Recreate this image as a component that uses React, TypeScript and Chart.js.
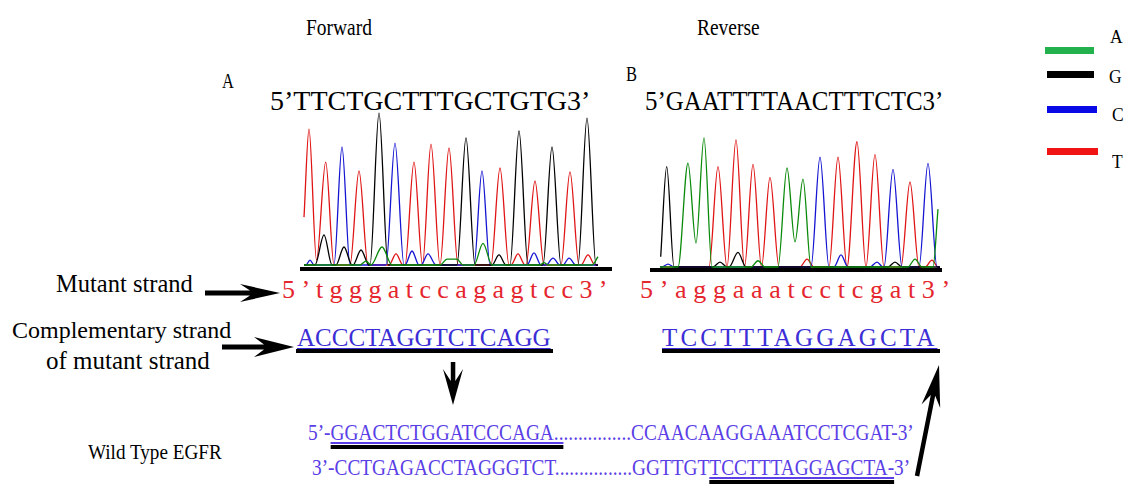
import React, { useEffect, useRef } from "react";
import { Chart, registerables } from "chart.js";
Chart.register(...registerables);

// ---------------- Data ----------------
// Base-call channel colours (trace) and legend colours
const BASES = ["A", "G", "C", "T"];
const TRACE_COLORS = ["#0a8a0a", "#000000", "#1414d2", "#e01414"];
const LEGEND_COLORS = ["#22b14c", "#000000", "#0a0ae6", "#f01414"];

// Forward chromatogram: [scan, intensity] per channel
const fwdA: number[][] = [[4, 0], [60, 0], [66, 24], [71, 0], [82, 109], [92, 0], [140, 0], [147, 36], [157, 36], [163, 0], [174, 0], [183, 131], [192, 0], [240, 0], [244, 15], [248, 0], [292, 0], [298, 50]];
const fwdG: number[][] = [[4, 0], [15, 0], [24, 182], [32, 0], [36, 0], [44, 109], [52, 0], [53, 0], [61, 91], [69, 0], [70, 0], [79, 921], [88, 0], [157, 0], [166, 770], [175, 0], [192, 0], [199, 61], [206, 0], [210, 0], [219, 812], [228, 0], [243, 0], [252, 715], [261, 0], [278, 0], [287, 890], [296, 0], [298, 0]];
const fwdC: number[][] = [[4, 0], [6, 0], [10, 30], [14, 0], [34, 0], [42, 715], [50, 0], [86, 0], [95, 739], [104, 0], [105, 0], [112, 85], [119, 0], [121, 0], [128, 67], [136, 0], [174, 0], [182, 570], [190, 0], [227, 0], [234, 73], [241, 0], [246, 0], [253, 42], [260, 0], [263, 0], [269, 42], [276, 0], [298, 0]];
const fwdT: number[][] = [[4, 290], [9, 824], [16.5, 30], [25.7, 624], [34, 0], [50, 0], [59, 570], [68, 0], [89, 0], [96, 67], [103, 0], [105, 0], [114, 624], [122.5, 0], [131, 733], [140, 0], [149, 709], [158, 0], [191, 0], [200, 588], [209, 0], [211, 0], [218, 67], [225, 0], [226, 0], [235, 509], [244, 0], [261, 0], [270, 564], [279, 0], [281, 0], [288, 61], [295, 0], [298, 0]];

// Reverse chromatogram
const revA: number[][] = [[10, 0], [28, 0], [38, 630], [46, 145], [54, 782], [62, 0], [101, 0], [108, 38], [115, 0], [128, 0], [137, 600], [145, 152], [153, 533], [161, 0], [258, 0], [265, 48], [272, 0], [283, 0], [288, 351]];
const revG: number[][] = [[10.7, 62], [16.7, 608], [24, 0], [63, 0], [70, 30], [77, 0], [79, 0], [88, 89], [96, 0], [238, 0], [245, 30], [252, 0], [290, 0]];
const revC: number[][] = [[10, 0], [12, 0], [18, 18], [24, 0], [161, 0], [170, 665], [179, 0], [184, 0], [191, 73], [198, 0], [220, 0], [227, 30], [233, 0], [234, 0], [243, 592], [252, 0], [269, 0], [278, 628], [287, 0], [290, 0]];
const revT: number[][] = [[10, 0], [59, 0], [68, 608], [77, 0], [86, 770], [94.5, 0], [103, 622], [111.5, 0], [120, 543], [129, 0], [150, 0], [157, 48], [164, 0], [179, 0], [188, 665], [197, 0], [207, 759], [216, 0], [225, 683], [234, 0], [251, 0], [260, 515], [269, 0], [275, 0], [282, 42], [288, 0], [290, 0]];

// Sequence labels
const FWD_CALLS = "5’TTCTGCTTTGCTGTG3’";
const REV_CALLS = "5’GAATTTTAACTTTCTC3’";
const MUT_FWD = "5’tgggatccagagtcc3’";
const MUT_REV = "5’aggaaatcctcgat3’";
const COMP_FWD = "ACCCTAGGTCTCAGG";
const COMP_REV = "TCCTTTAGGAGCTA";
const WT_TOP = ["5’-", "GGACTCTGGATCCCAGA..", "..............CCAACAAGGAAATCCTCGAT-3’"];
const WT_BOT = ["3’-CCTGAGACCTAGGGTCT................GGTTGT", "TCCTTTAGGAGCTA-", "3’"];

// ---------------- Components ----------------
const SERIF = '"Liberation Serif", "Times New Roman", serif';

function Chromatogram(props: { traces: number[][][]; xMax: number; left: number; top: number; width: number; height: number }) {
  const ref = useRef<HTMLCanvasElement>(null);
  useEffect(() => {
    const chart = new Chart(ref.current as HTMLCanvasElement, {
      type: "scatter",
      data: {
        datasets: props.traces.map((pts, i) => ({
          label: BASES[i],
          data: pts.map(([x, y]) => ({ x, y })),
          showLine: true,
          borderColor: TRACE_COLORS[i],
          backgroundColor: TRACE_COLORS[i],
          borderWidth: 1.3,
          pointRadius: 0,
          cubicInterpolationMode: "monotone",
          fill: false,
          clip: false,
        })),
      } as any,
      options: {
        animation: false,
        responsive: false,
        maintainAspectRatio: false,
        layout: { padding: { top: 5, bottom: 5, left: 0, right: 0 } },
        scales: {
          x: { type: "linear", min: 0, max: props.xMax, display: false },
          y: { min: 0, max: 1000, display: false },
        },
        plugins: { legend: { display: false }, tooltip: { enabled: false } },
      } as any,
    });
    return () => chart.destroy();
  }, []);
  return (
    <canvas
      ref={ref}
      width={props.width}
      height={props.height}
      style={{ position: "absolute", left: props.left, top: props.top, width: props.width, height: props.height }}
    />
  );
}

function Txt(p: { x: number; base: number; size: number; color?: string; sx?: number; ls?: number; children: any }) {
  return (
    <div
      style={{
        position: "absolute",
        left: p.x,
        top: p.base - 0.8375 * p.size,
        fontSize: p.size,
        lineHeight: `${p.size}px`,
        color: p.color || "#000",
        whiteSpace: "pre",
        fontFamily: SERIF,
        letterSpacing: p.ls || 0,
        transform: `scaleX(${p.sx || 1})`,
        transformOrigin: "left top",
      }}
    >
      {p.children}
    </div>
  );
}

function arrowPts(x1: number, y1: number, x2: number, y2: number, head: number, half: number, shaft: number, notch: number) {
  const dx = x2 - x1, dy = y2 - y1, L = Math.hypot(dx, dy);
  const ux = dx / L, uy = dy / L, nx = -uy, ny = ux;
  const P = (a: number, b: number) => `${(x1 + ux * a + nx * b).toFixed(1)},${(y1 + uy * a + ny * b).toFixed(1)}`;
  return [P(0, -shaft / 2), P(L - head + notch, -shaft / 2), P(L - head, -half), P(L, 0), P(L - head, half), P(L - head + notch, shaft / 2), P(0, shaft / 2)].join(" ");
}

const Bar = (p: { x: number; y: number; w: number; h?: number }) => (
  <div style={{ position: "absolute", left: p.x, top: p.y, width: p.w, height: p.h || 4, background: "#000" }} />
);

const RED = "#e5262e";
const BLUE = "#3c2ed6";
const WT = "#5a3ee6";

export default function App() {
  return (
    <div style={{ position: "absolute", left: 0, top: 0, width: 1136, height: 494, background: "#fff", overflow: "hidden" }}>
      <Txt x={306} base={35} size={24} sx={0.81}>Forward</Txt>
      <Txt x={697} base={35} size={24} sx={0.81}>Reverse</Txt>
      <Txt x={222} base={88} size={22} sx={0.75}>A</Txt>
      <Txt x={626} base={81} size={22} sx={0.75}>B</Txt>
      <Txt x={270} base={110} size={28}>{FWD_CALLS}</Txt>
      <Txt x={645} base={110} size={28} sx={0.89}>{REV_CALLS}</Txt>

      {/* Legend */}
      {BASES.map((b, i) => {
        const ys = [47, 71, 106, 148];
        const xs = [1045, 1047, 1047, 1047];
        const ws = [49, 47, 50, 51];
        const lb = [43, 83, 121, 168];
        const lx = [1110, 1109, 1112, 1112];
        return (
          <React.Fragment key={b}>
            <div style={{ position: "absolute", left: xs[i], top: ys[i], width: ws[i], height: 7, background: LEGEND_COLORS[i] }} />
            <Txt x={lx[i]} base={lb[i]} size={19} sx={0.92}>{b}</Txt>
          </React.Fragment>
        );
      })}

      <Chromatogram traces={[fwdA, fwdG, fwdC, fwdT]} xMax={312} left={300} top={95} width={312} height={175} />
      <Chromatogram traces={[revA, revG, revC, revT]} xMax={292} left={650} top={97} width={292} height={175} />
      <Bar x={300} y={267} w={312} />
      <Bar x={650} y={268} w={292} />

      <Txt x={56} base={293} size={24.5}>Mutant strand</Txt>
      <Txt x={282} base={299} size={26} color={RED} ls={6.4}>{MUT_FWD}</Txt>
      <Txt x={640} base={299} size={26} color={RED} ls={6.7}>{MUT_REV}</Txt>

      <Txt x={12} base={338} size={24}>Complementary strand</Txt>
      <Txt x={46} base={369} size={25}>of mutant strand</Txt>
      <Txt x={297} base={346} size={25} color={BLUE}><span style={{ textDecoration: "underline" }}>{COMP_FWD}</span></Txt>
      <Txt x={662} base={346} size={25} color={BLUE} ls={3.2}><span style={{ textDecoration: "underline" }}>{COMP_REV}</span></Txt>
      <Bar x={296} y={349} w={257} />
      <Bar x={662} y={349} w={278} />

      <Txt x={88} base={459} size={22} sx={0.87}>Wild Type EGFR</Txt>
      <Txt x={308} base={440} size={23} sx={0.84} color={WT}>
        {WT_TOP[0]}
        <span style={{ textDecoration: "underline", borderBottom: "4px solid #000" }}>{WT_TOP[1]}</span>
        {WT_TOP[2]}
      </Txt>
      <Txt x={312} base={475} size={23} sx={0.84} color={WT}>
        {WT_BOT[0]}
        <span style={{ textDecoration: "underline", borderBottom: "4px solid #000" }}>{WT_BOT[1]}</span>
        {WT_BOT[2]}
      </Txt>

      <svg width={1136} height={494} style={{ position: "absolute", left: 0, top: 0 }}>
        <polygon points={arrowPts(205, 293, 280, 293, 40, 9, 5, 10)} fill="#000" />
        <polygon points={arrowPts(222, 347, 294, 347, 40, 10, 5, 10)} fill="#000" />
        <polygon points={arrowPts(453, 362, 453, 405, 36, 10, 4.5, 12)} fill="#000" />
        <polygon points={arrowPts(917, 476, 939, 365, 42, 9.5, 4.5, 11)} fill="#000" />
      </svg>
    </div>
  );
}
